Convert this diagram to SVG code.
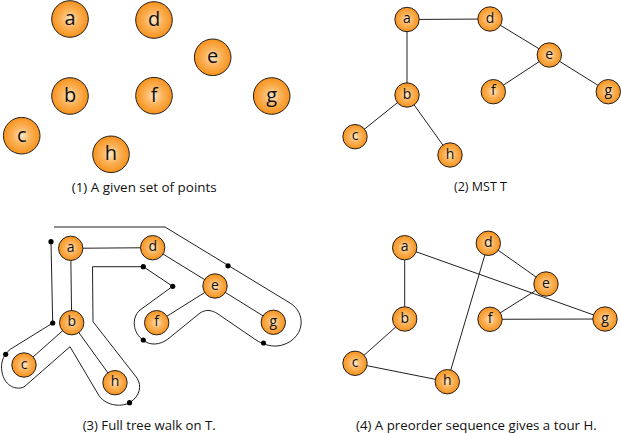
<svg xmlns="http://www.w3.org/2000/svg" width="621" height="434" viewBox="0 0 621 434">
<defs>
<radialGradient id="og" cx="50%" cy="50%" r="50%">
<stop offset="0" stop-color="#FFE6C6"/>
<stop offset="0.45" stop-color="#FBB55E"/>
<stop offset="1" stop-color="#F7921C"/>
</radialGradient>
<style>
.n circle{fill:url(#og);stroke:#231F20;stroke-width:1}
.n text{font-family:"Open Sans","Liberation Sans",sans-serif;fill:#111;text-anchor:middle}
.big text{font-size:20px}
.sm text{font-size:14px}
.e{stroke:#231F20;stroke-width:1;fill:none}
.dot{fill:#000}
.cap{font-family:"Open Sans","Liberation Sans",sans-serif;font-size:12.5px;fill:#111}
</style>
</defs>
<rect width="621" height="434" fill="#fff"/>

<!-- Panel 1 -->
<g class="n big">
<g id="p1-a"><circle cx="70" cy="19" r="18.3"/><text x="70" y="25">a</text></g>
<g id="p1-d"><circle cx="154" cy="20" r="18.3"/><text x="154" y="26">d</text></g>
<g id="p1-e"><circle cx="212.7" cy="57.3" r="18.3"/><text x="212.7" y="63.3">e</text></g>
<g id="p1-b"><circle cx="70" cy="96" r="18.3"/><text x="70" y="102">b</text></g>
<g id="p1-f"><circle cx="154" cy="95.7" r="18.3"/><text x="154" y="101.7">f</text></g>
<g id="p1-g"><circle cx="271.7" cy="96" r="18.3"/><text x="271.7" y="102">g</text></g>
<g id="p1-c"><circle cx="21.7" cy="135.7" r="18.3"/><text x="21.7" y="141.7">c</text></g>
<g id="p1-h"><circle cx="111" cy="154.3" r="18.3"/><text x="111" y="160.3">h</text></g>
</g>
<text class="cap" x="71.7" y="191.7" textLength="145" lengthAdjust="spacingAndGlyphs">(1) A given set of points</text>

<!-- Panel 2 -->
<g id="p2-connectors" class="e">
<line x1="407" y1="19.5" x2="490" y2="19"/>
<line x1="407" y1="19.5" x2="407" y2="95"/>
<line x1="490" y1="19" x2="549.3" y2="55"/>
<line x1="549.3" y1="55" x2="493.3" y2="91.7"/>
<line x1="549.3" y1="55" x2="608.3" y2="91.7"/>
<line x1="407" y1="95" x2="355" y2="136.7"/>
<line x1="407" y1="95" x2="450" y2="155"/>
</g>
<g class="n sm">
<g id="p2-a"><circle cx="407" cy="19.5" r="12.2"/><text x="407" y="23">a</text></g>
<g id="p2-d"><circle cx="490" cy="19" r="12.2"/><text x="490" y="22.5">d</text></g>
<g id="p2-e"><circle cx="549.3" cy="55" r="12.2"/><text x="549.3" y="58.5">e</text></g>
<g id="p2-b"><circle cx="407" cy="95" r="12.2"/><text x="407" y="98.5">b</text></g>
<g id="p2-f"><circle cx="493.3" cy="91.7" r="12.2"/><text x="493.3" y="95.2">f</text></g>
<g id="p2-g"><circle cx="608.3" cy="91.7" r="12.2"/><text x="608.3" y="95.2">g</text></g>
<g id="p2-c"><circle cx="355" cy="136.7" r="12.2"/><text x="355" y="140.2">c</text></g>
<g id="p2-h"><circle cx="450" cy="155" r="12.2"/><text x="450" y="158.5">h</text></g>
</g>
<text class="cap" x="454" y="190.5" textLength="53" lengthAdjust="spacingAndGlyphs">(2) MST T</text>

<!-- Panel 3 -->
<g id="p3-connectors" class="e">
<line x1="70.7" y1="248.3" x2="152.7" y2="247.7"/>
<line x1="70.7" y1="248.3" x2="71.7" y2="322.7"/>
<line x1="152.7" y1="247.7" x2="215" y2="286"/>
<line x1="215" y1="286" x2="156.7" y2="322.7"/>
<line x1="215" y1="286" x2="273.3" y2="322.3"/>
<line x1="71.7" y1="322.7" x2="24" y2="365"/>
<line x1="71.7" y1="322.7" x2="115" y2="382.7"/>
</g>
<g id="p3-walk">
<path class="e" d="M54 227 L165 227 L290 303 C298 308 302 316 301 325 C300 335 290 345 277 346 C270 346.5 262 344 256 340 L218 314 C212 310 206 309 200 313 L168 339 C160 345 150 346 143 340 C133 333 131 318 140 310 L172.7 286.3 L143.3 266.7 L92.5 266.7 L93 321.7 L137 378 C142 386 140 396 130 402.5 C120 408 104 405 98 394 L70 346.7 L24 387 C14 391 4 384 2 372 C0 362 4 352 14 347 L52.7 323 L51 241.7"/>
<circle class="dot" cx="51" cy="241.7" r="2.6"/>
<circle class="dot" cx="52.7" cy="323" r="2.6"/>
<circle class="dot" cx="5.7" cy="354.3" r="2.6"/>
<circle class="dot" cx="129.5" cy="402.7" r="2.6"/>
<circle class="dot" cx="143.3" cy="266.7" r="2.6"/>
<circle class="dot" cx="172.7" cy="286.3" r="2.6"/>
<circle class="dot" cx="143.3" cy="340" r="2.6"/>
<circle class="dot" cx="263.5" cy="343" r="2.6"/>
<circle class="dot" cx="228" cy="265.8" r="2.6"/>
</g>
<g class="n sm">
<g id="p3-a"><circle cx="70.7" cy="248.3" r="12.2"/><text x="70.7" y="251.8">a</text></g>
<g id="p3-d"><circle cx="152.7" cy="247.7" r="12.2"/><text x="152.7" y="251.2">d</text></g>
<g id="p3-e"><circle cx="215" cy="286" r="12.2"/><text x="215" y="289.5">e</text></g>
<g id="p3-b"><circle cx="71.7" cy="322.7" r="12.2"/><text x="71.7" y="326.2">b</text></g>
<g id="p3-f"><circle cx="156.7" cy="322.7" r="12.2"/><text x="156.7" y="326.2">f</text></g>
<g id="p3-g"><circle cx="273.3" cy="322.3" r="12.2"/><text x="273.3" y="325.8">g</text></g>
<g id="p3-c"><circle cx="24" cy="365" r="12.2"/><text x="24" y="368.5">c</text></g>
<g id="p3-h"><circle cx="115" cy="382.7" r="12.2"/><text x="115" y="386.2">h</text></g>
</g>
<text class="cap" x="82.7" y="430" textLength="133" lengthAdjust="spacingAndGlyphs">(3) Full tree walk on T.</text>

<!-- Panel 4 -->
<g id="p4-connectors" class="e">
<line x1="404.7" y1="247.7" x2="404.7" y2="319"/>
<line x1="404.7" y1="319" x2="355" y2="363.3"/>
<line x1="355" y1="363.3" x2="447.3" y2="381.7"/>
<line x1="447.3" y1="381.7" x2="488.3" y2="243.3"/>
<line x1="488.3" y1="243.3" x2="546" y2="284"/>
<line x1="546" y1="284" x2="490" y2="319.3"/>
<line x1="490" y1="319.3" x2="605" y2="319"/>
<line x1="605" y1="319" x2="404.7" y2="247.7"/>
</g>
<g class="n sm">
<g id="p4-a"><circle cx="404.7" cy="247.7" r="12.2"/><text x="404.7" y="251.2">a</text></g>
<g id="p4-d"><circle cx="488.3" cy="243.3" r="12.2"/><text x="488.3" y="246.8">d</text></g>
<g id="p4-e"><circle cx="546" cy="284" r="12.2"/><text x="546" y="287.5">e</text></g>
<g id="p4-b"><circle cx="404.7" cy="319" r="12.2"/><text x="404.7" y="322.5">b</text></g>
<g id="p4-f"><circle cx="490" cy="319.3" r="12.2"/><text x="490" y="322.8">f</text></g>
<g id="p4-g"><circle cx="605" cy="319" r="12.2"/><text x="605" y="322.5">g</text></g>
<g id="p4-c"><circle cx="355" cy="363.3" r="12.2"/><text x="355" y="366.8">c</text></g>
<g id="p4-h"><circle cx="447.3" cy="381.7" r="12.2"/><text x="447.3" y="385.2">h</text></g>
</g>
<text class="cap" x="356" y="430" textLength="240.7" lengthAdjust="spacingAndGlyphs">(4) A preorder sequence gives a tour H.</text>
</svg>
